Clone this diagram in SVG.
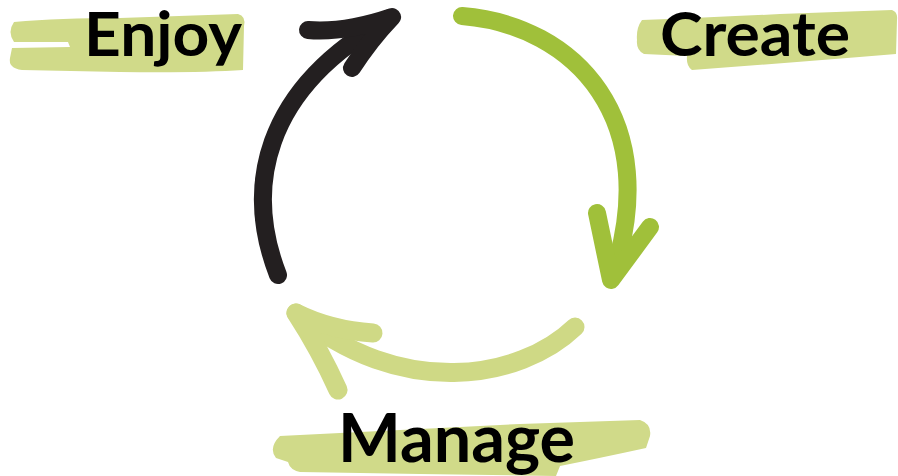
<svg xmlns="http://www.w3.org/2000/svg" width="898" height="476" viewBox="0 0 898 476">
<style>
.hl{fill:#d0da89}
.lbl{font-family:"Lato","Noto Sans",sans-serif;font-weight:700;fill:#000}
.arr{fill:none;stroke-linecap:round;stroke-linejoin:round}
</style>
<rect width="898" height="476" fill="#fff"/>
<g id="enjoy">
<path class="hl" d="M14,22 Q60,18 120,18 L238,14 Q246,16 244,26 L243,70 Q200,73 120,72 L22,70 Q8,68 10,58 L12,48 L70,47 L68,42 L14,42 Q7,32 14,22 Z"/>
<text class="lbl" x="84" y="56" font-size="62" textLength="158" lengthAdjust="spacingAndGlyphs">Enjoy</text>
</g>
<g id="create">
<path class="hl" d="M642,20 Q700,18 780,14 L892,10 Q898,12 897,20 L896,54 Q800,62 692,70 Q686,66 687,56 L644,54 Q636,50 637,40 Q636,28 642,20 Z"/>
<text class="lbl" x="660" y="56" font-size="62" textLength="190" lengthAdjust="spacingAndGlyphs">Create</text>
</g>
<g id="manage">
<path class="hl" d="M280,436 Q400,430 520,424 L640,420 Q652,424 650,436 L646,448 Q600,458 560,466 L556,476 L420,474 L300,472 Q290,470 288,462 L276,458 Q268,448 280,436 Z"/>
<text class="lbl" x="338" y="462" font-size="66" textLength="237" lengthAdjust="spacingAndGlyphs">Manage</text>
</g>
<g id="connectors">
<g class="arr" stroke="#231f20" stroke-width="18">
<path d="M278,275 C245,190 260,90 390,18"/>
<path d="M308,30 Q345,33 392,17 Q370,40 352,68"/>
</g>
<g class="arr" stroke="#a0c03a" stroke-width="18">
<path d="M462,16 C575,25 665,120 612,278"/>
<path d="M597,213 L611,280 L650,227"/>
</g>
<g class="arr" stroke="#cfd985" stroke-width="19">
<path d="M575,327 C520,380 400,400 296,313"/>
<path d="M373,333 Q330,330 296,313 Q320,350 338,390"/>
</g>
</g>
</svg>
